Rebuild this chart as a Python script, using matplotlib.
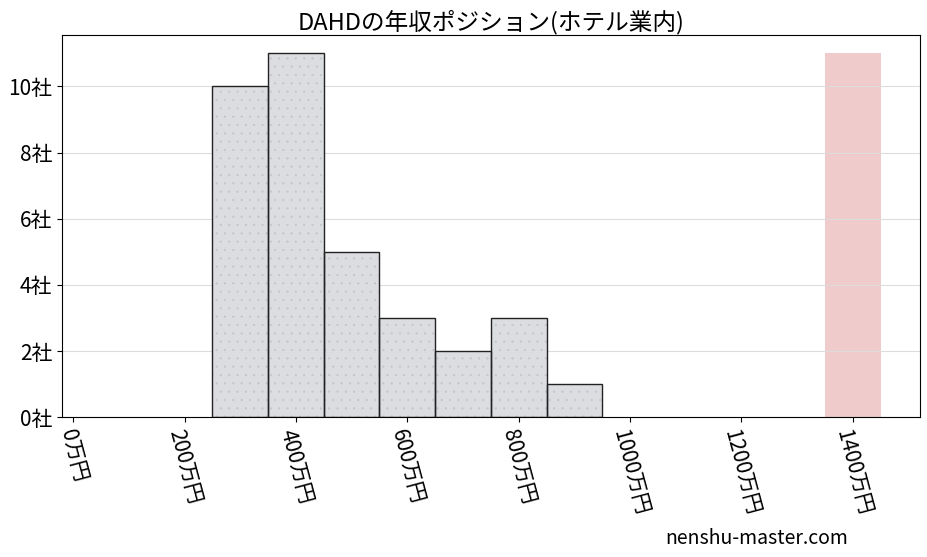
import matplotlib
matplotlib.use("Agg")
import matplotlib.pyplot as plt

plt.rcParams['font.family'] = ['Noto Sans CJK JP', 'DejaVu Sans']
plt.rcParams['hatch.linewidth'] = 0.3

# 年収分布 (万円単位の階級と社数)
bin_left = [250, 350, 450, 550, 650, 750, 850]
counts = [10, 11, 5, 3, 2, 3, 1]
bin_width = 100

# 対象企業の位置
target_center = 1400
target_height = 11

xticks = [0, 200, 400, 600, 800, 1000, 1200, 1400]
xtick_labels = [f"{v}万円" for v in xticks]
yticks = [0, 2, 4, 6, 8, 10]
ytick_labels = [f"{v}社" for v in yticks]

fig, ax = plt.subplots(figsize=(9.27, 5.57), dpi=100)

ax.grid(True, axis='y', color='#dddddd', linewidth=0.8, zorder=0)
# 塗りとドット(薄い色)
ax.bar(bin_left, counts, width=bin_width, align='edge', color='#dcdde0',
       edgecolor='#c2c4c8', linewidth=0, hatch='..', zorder=2)
# 枠線
ax.bar(bin_left, counts, width=bin_width, align='edge', fill=False,
       edgecolor='#222222', linewidth=1.0, zorder=3)
ax.bar([target_center], [target_height], width=bin_width, color='#e8b0b0',
       alpha=0.65, zorder=1)

ax.set_xlim(-20, 1520)
ax.set_ylim(0, 11.55)
ax.set_xticks(xticks)
ax.set_xticklabels(xtick_labels, rotation=-75, fontsize=15, ha='center', va='top')
ax.set_yticks(yticks)
ax.set_yticklabels(ytick_labels, fontsize=15)
ax.set_title("DAHDの年収ポジション(ホテル業内)", fontsize=17, pad=4)

fig.text(0.915, 0.015, "nenshu-master.com", ha='right', va='bottom', fontsize=14)

fig.subplots_adjust(left=0.067, right=0.992, top=0.937, bottom=0.251)
fig.savefig("out.png", dpi=100)
